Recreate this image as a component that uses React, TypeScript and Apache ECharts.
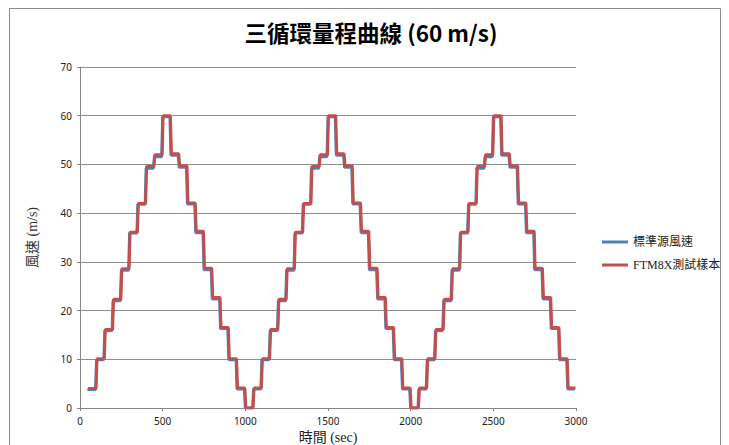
import React, { useEffect, useRef } from "react";
import * as echarts from "echarts";

const titleText = "三循環量程曲線 (60 m/s)";
const seriesNames = ["標準源風速", "FTM8X測試樣本"];
const xTicks = [0, 500, 1000, 1500, 2000, 2500, 3000];
const yTicks = [0, 10, 20, 30, 40, 50, 60, 70];

// start time (sec) of each constant-speed step
const stepStart = [
  45, 100, 150, 200, 250, 300, 350, 400, 450, 500,
  550, 600, 650, 700, 750, 800, 850, 900, 950, 1000,
  1050, 1100, 1150, 1200, 1250, 1300, 1350, 1400, 1450, 1500,
  1550, 1600, 1650, 1700, 1750, 1800, 1850, 1900, 1950, 2000,
  2050, 2100, 2150, 2200, 2250, 2300, 2350, 2400, 2450, 2500,
  2550, 2600, 2650, 2700, 2750, 2800, 2850, 2900, 2950,
];
// how long each step is held (sec)
const holdSec = 44;
// sample lags the reference (sec)
const sampleLagSec = 3;

const refLevels = [
  3.8, 9.9, 15.9, 22.0, 28.3, 35.9, 41.8, 49.2, 51.6, 59.8,
  51.9, 49.4, 41.9, 36.0, 28.4, 22.4, 16.3, 9.9, 3.9, 0.0,
  3.9, 9.9, 15.9, 22.0, 28.3, 35.9, 41.8, 49.2, 51.6, 59.8,
  51.9, 49.4, 41.9, 36.0, 28.4, 22.4, 16.3, 9.9, 3.9, 0.0,
  3.9, 9.9, 15.9, 22.0, 28.3, 35.9, 41.8, 49.2, 51.6, 59.8,
  51.9, 49.4, 41.9, 36.0, 28.4, 22.4, 16.3, 9.9, 3.9,
];
const sampleLevels = [
  4.0, 10.1, 16.1, 22.3, 28.6, 36.1, 42.0, 49.6, 52.0, 60.0,
  52.2, 49.7, 42.1, 36.3, 28.7, 22.7, 16.5, 10.1, 4.1, 0.0,
  4.1, 10.1, 16.1, 22.3, 28.6, 36.1, 42.0, 49.6, 52.0, 60.0,
  52.2, 49.7, 42.1, 36.3, 28.7, 22.7, 16.5, 10.1, 4.1, 0.0,
  4.1, 10.1, 16.1, 22.3, 28.6, 36.1, 42.0, 49.6, 52.0, 60.0,
  52.2, 49.7, 42.1, 36.3, 28.7, 22.7, 16.5, 10.1, 4.1,
];

function buildSteps(levels: number[], lag: number): number[][] {
  const pts: number[][] = [];
  levels.forEach((v, i) => {
    const s = stepStart[i] + lag;
    const e = i === 0 ? stepStart[1] - 6 + lag : s + holdSec;
    pts.push([s, v]);
    pts.push([Math.min(e, 3000), v]);
  });
  return pts;
}

const serifFont = "'Liberation Serif', 'Noto Sans CJK TC', serif";
const sansFont = "'Noto Sans', 'Noto Sans CJK TC', sans-serif";

export default function App() {
  const ref = useRef<HTMLDivElement>(null);
  useEffect(() => {
    document.body.style.margin = "0";
    if (!ref.current) return;
    const chart = echarts.init(ref.current, undefined, { renderer: "svg" });
    chart.setOption({
      animation: false,
      backgroundColor: "#ffffff",
      title: {
        text: titleText,
        left: 366,
        top: 16,
        textAlign: "center",
        textStyle: {
          fontFamily: "'Noto Sans CJK TC', sans-serif",
          fontWeight: "bold",
          fontSize: 22.5,
          color: "#000",
        },
      },
      graphic: [
        {
          type: "rect",
          shape: { x: 9.5, y: 8.5, width: 711, height: 460 },
          style: { fill: "none", stroke: "#8c8c8c", lineWidth: 1 },
          silent: true,
          z: -1,
        },
      ],
      legend: {
        orient: "vertical",
        left: 597,
        top: 230,
        itemWidth: 26,
        itemHeight: 3,
        itemGap: 9,
        icon: "rect",
        textStyle: {
          fontFamily: serifFont,
          fontSize: 12,
          color: "#222",
          lineHeight: 14,
        },
        data: seriesNames,
      },
      grid: { left: 80, right: 153, top: 67, bottom: 37, outerBoundsMode: "none", containLabel: false },
      xAxis: {
        type: "value",
        min: xTicks[0],
        max: xTicks[xTicks.length - 1],
        interval: 500,
        name: "時間 (sec)",
        nameLocation: "middle",
        nameGap: 21,
        nameTextStyle: { fontFamily: serifFont, fontSize: 14, color: "#222", lineHeight: 14 },
        axisLine: { show: true, lineStyle: { color: "#868686", width: 1 } },
        axisTick: { show: true, length: 3, lineStyle: { color: "#868686" } },
        splitLine: { show: false },
        axisLabel: {
          fontFamily: sansFont,
          fontSize: 10,
          color: "#222",
          margin: 8,
          formatter: (v: number) => String(v),
        },
      },
      yAxis: {
        type: "value",
        min: yTicks[0],
        max: yTicks[yTicks.length - 1],
        interval: 10,
        name: "風速 (m/s)",
        nameLocation: "middle",
        nameGap: 41,
        nameTextStyle: { fontFamily: serifFont, fontSize: 14, color: "#333" },
        axisLine: { show: true, lineStyle: { color: "#868686", width: 1 } },
        axisTick: { show: true, length: 3, lineStyle: { color: "#868686" } },
        splitLine: { show: true, lineStyle: { color: "#8e8e8e", width: 1 } },
        axisLabel: {
          fontFamily: sansFont,
          fontSize: 10,
          color: "#222",
          margin: 8,
          formatter: (v: number) => String(v),
        },
      },
      series: [
        {
          name: seriesNames[0],
          type: "line",
          data: buildSteps(refLevels, 0),
          showSymbol: false,
          lineStyle: { color: "#4F81BD", width: 3 },
          itemStyle: { color: "#4F81BD" },
          z: 2,
        },
        {
          name: seriesNames[1],
          type: "line",
          data: buildSteps(sampleLevels, sampleLagSec),
          showSymbol: false,
          lineStyle: { color: "#C0504D", width: 3 },
          itemStyle: { color: "#C0504D" },
          z: 3,
        },
      ],
    });
    return () => chart.dispose();
  }, []);
  return <div ref={ref} style={{ width: 729, height: 445 }} />;
}
